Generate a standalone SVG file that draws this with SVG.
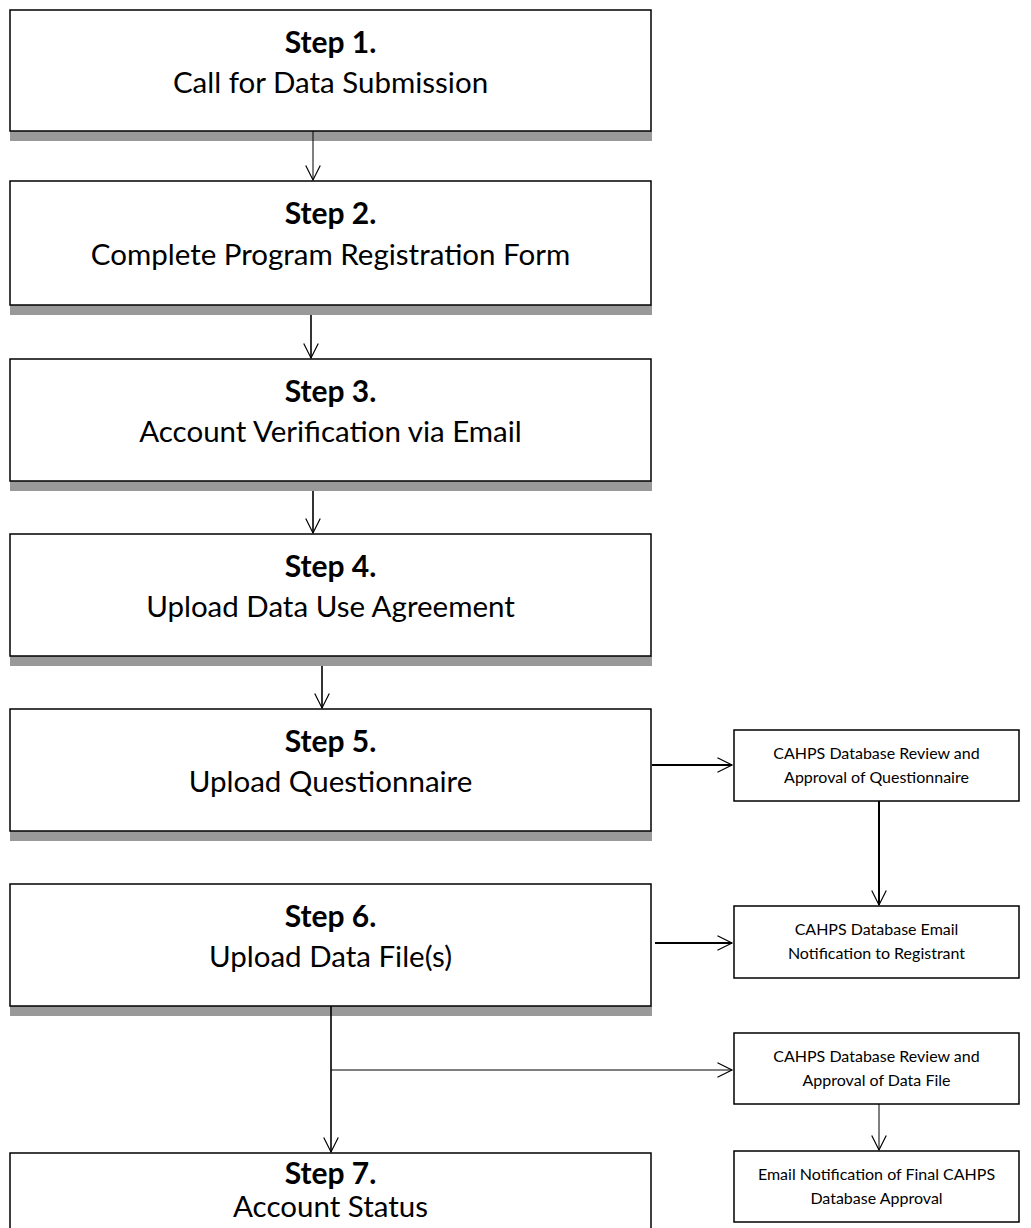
<svg xmlns="http://www.w3.org/2000/svg" width="1031" height="1228" viewBox="0 0 1031 1228">
<defs>
<marker id="ah" markerUnits="userSpaceOnUse" markerWidth="20" markerHeight="20" viewBox="-20 -10 22 20" refX="0" refY="0" orient="auto" overflow="visible">
<path d="M-16,-8 L0,0 L-16,8" fill="none" stroke="#000" stroke-width="1.3"/>
</marker>
</defs>
<style>
.box{fill:#fff;stroke:#000;stroke-width:1.5}
.shadow{fill:#999}
.step{font-family:Lato,"Liberation Sans",sans-serif;font-weight:bold;font-size:30px;text-anchor:middle;fill:#000}
.title{font-family:Lato,"Liberation Sans",sans-serif;font-size:29.5px;text-anchor:middle;fill:#000}
.small{font-family:Lato,"Liberation Sans",sans-serif;font-size:16px;text-anchor:middle;fill:#000}
.c{fill:none;stroke:#000;marker-end:url(#ah)}
</style>
<g id="step1"><rect class="shadow" x="10" y="131" width="642" height="10"/><rect class="box" x="10" y="10" width="641" height="121"/><text class="step" x="330.5" y="53">Step 1.</text><text class="title" x="330.5" y="93">Call for Data Submission</text></g>
<g id="step2"><rect class="shadow" x="10" y="305" width="642" height="10"/><rect class="box" x="10" y="181" width="641" height="124"/><text class="step" x="330.5" y="224">Step 2.</text><text class="title" x="330.5" y="265">Complete Program Registration Form</text></g>
<g id="step3"><rect class="shadow" x="10" y="481" width="642" height="10"/><rect class="box" x="10" y="359" width="641" height="122"/><text class="step" x="330.5" y="402">Step 3.</text><text class="title" x="330.5" y="442">Account Verification via Email</text></g>
<g id="step4"><rect class="shadow" x="10" y="656" width="642" height="10"/><rect class="box" x="10" y="534" width="641" height="122"/><text class="step" x="330.5" y="577">Step 4.</text><text class="title" x="330.5" y="617">Upload Data Use Agreement</text></g>
<g id="step5"><rect class="shadow" x="10" y="831" width="642" height="10"/><rect class="box" x="10" y="709" width="641" height="122"/><text class="step" x="330.5" y="752">Step 5.</text><text class="title" x="330.5" y="792">Upload Questionnaire</text></g>
<g id="step6"><rect class="shadow" x="10" y="1006" width="642" height="10"/><rect class="box" x="10" y="884" width="641" height="122"/><text class="step" x="330.5" y="927">Step 6.</text><text class="title" x="330.5" y="967">Upload Data File(s)</text></g>
<g id="step7"><rect class="box" x="10" y="1153" width="641" height="122"/><text class="step" x="330.5" y="1184">Step 7.</text><text class="title" x="330.5" y="1217">Account Status</text></g>
<g id="reviewQ"><rect class="box" x="734" y="730" width="285" height="71"/><text class="small" x="876.5" y="759">CAHPS Database Review and</text><text class="small" x="876.5" y="783">Approval of Questionnaire</text></g>
<g id="emailReg"><rect class="box" x="734" y="906" width="285" height="72"/><text class="small" x="876.5" y="935">CAHPS Database Email</text><text class="small" x="876.5" y="959">Notification to Registrant</text></g>
<g id="reviewData"><rect class="box" x="734" y="1033" width="285" height="71"/><text class="small" x="876.5" y="1062">CAHPS Database Review and</text><text class="small" x="876.5" y="1086">Approval of Data File</text></g>
<g id="finalEmail"><rect class="box" x="734" y="1151" width="285" height="71"/><text class="small" x="876.5" y="1180">Email Notification of Final CAHPS</text><text class="small" x="876.5" y="1204">Database Approval</text></g>
<g id="connectors">
<path class="c" d="M313,131 V180" stroke-width="1"/>
<path class="c" d="M311,315 V358" stroke-width="1.6"/>
<path class="c" d="M313,491 V533" stroke-width="1.6"/>
<path class="c" d="M322,666 V708" stroke-width="1.6"/>
<path class="c" d="M652,765 H732" stroke-width="2"/>
<path class="c" d="M879,801 V905" stroke-width="2"/>
<path class="c" d="M655,943 H732" stroke-width="2"/>
<path class="c" d="M331,1006 V1152" stroke-width="1.6"/>
<path class="c" d="M331,1070 H732" stroke-width="1"/>
<path class="c" d="M879,1104 V1150" stroke-width="1"/>
</g>
</svg>
